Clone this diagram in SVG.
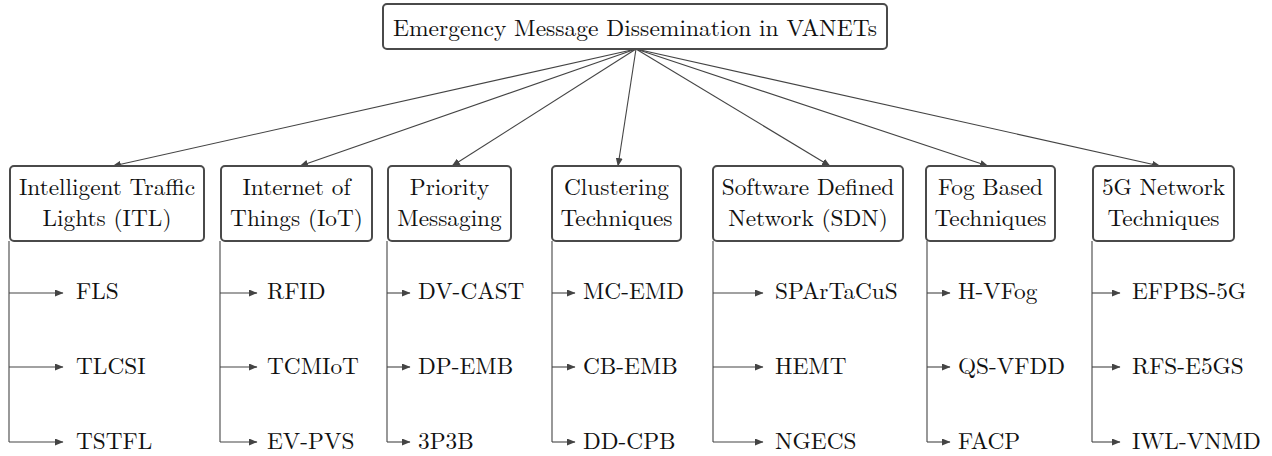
<svg xmlns="http://www.w3.org/2000/svg" width="1272" height="456" viewBox="0 0 1272 456">
<defs>
<marker id="ah" markerUnits="userSpaceOnUse" markerWidth="9" markerHeight="7" refX="8" refY="3.5" orient="auto">
<path d="M0,0 L8.5,3.5 L0,7 z" fill="#444"/>
</marker>
<style>
.box{fill:#fff;stroke:#4a4a4a;stroke-width:2}
text{fill:#111}
.t{text-anchor:middle}
.title{font-size:23.5px}
.cat{font-size:23.3px}
.leaf{font-size:23.3px}
.c{stroke:#444;stroke-width:1.1;fill:none}
.ca{stroke:#444;stroke-width:1.1;fill:none;marker-end:url(#ah)}
</style>
</defs>
<g id="connectors">
<line class="ca" x1="636" y1="49" x2="113" y2="166"/>
<line class="ca" x1="636" y1="49" x2="300" y2="166"/>
<line class="ca" x1="636" y1="49" x2="452" y2="166"/>
<line class="ca" x1="636" y1="49" x2="618" y2="166"/>
<line class="ca" x1="636" y1="49" x2="830" y2="166"/>
<line class="ca" x1="636" y1="49" x2="988" y2="166"/>
<line class="ca" x1="636" y1="49" x2="1160" y2="166"/>

<path class="c" d="M9,241 V442"/>
<line class="ca" x1="9" y1="293" x2="63" y2="293"/>
<line class="ca" x1="9" y1="367" x2="63" y2="367"/>
<line class="ca" x1="9" y1="442" x2="63" y2="442"/>

<path class="c" d="M220,241 V442"/>
<line class="ca" x1="220" y1="293" x2="257" y2="293"/>
<line class="ca" x1="220" y1="367" x2="257" y2="367"/>
<line class="ca" x1="220" y1="442" x2="257" y2="442"/>

<path class="c" d="M387,241 V442"/>
<line class="ca" x1="387" y1="293" x2="410" y2="293"/>
<line class="ca" x1="387" y1="367" x2="410" y2="367"/>
<line class="ca" x1="387" y1="442" x2="410" y2="442"/>

<path class="c" d="M552,241 V442"/>
<line class="ca" x1="552" y1="293" x2="575" y2="293"/>
<line class="ca" x1="552" y1="367" x2="575" y2="367"/>
<line class="ca" x1="552" y1="442" x2="575" y2="442"/>

<path class="c" d="M713,241 V442"/>
<line class="ca" x1="713" y1="293" x2="763" y2="293"/>
<line class="ca" x1="713" y1="367" x2="763" y2="367"/>
<line class="ca" x1="713" y1="442" x2="763" y2="442"/>

<path class="c" d="M927,241 V442"/>
<line class="ca" x1="927" y1="293" x2="950" y2="293"/>
<line class="ca" x1="927" y1="367" x2="950" y2="367"/>
<line class="ca" x1="927" y1="442" x2="950" y2="442"/>

<path class="c" d="M1092,241 V442"/>
<line class="ca" x1="1092" y1="293" x2="1120" y2="293"/>
<line class="ca" x1="1092" y1="367" x2="1120" y2="367"/>
<line class="ca" x1="1092" y1="442" x2="1120" y2="442"/>
</g>

<g font-family="Latin Modern Roman, Liberation Serif, serif">
<g id="root">
<rect class="box" x="383" y="4" width="504" height="45" rx="4"/>
<text class="t title" x="635" y="36">Emergency Message Dissemination in VANETs</text>
</g>

<g id="itl">
<rect class="box" x="10" y="166" width="194" height="75" rx="4"/>
<text class="t cat" x="107" y="195">Intelligent Traffic</text>
<text class="t cat" x="107" y="226">Lights (ITL)</text>
</g>
<g id="iot">
<rect class="box" x="221" y="166" width="151" height="75" rx="4"/>
<text class="t cat" x="296.5" y="195">Internet of</text>
<text class="t cat" x="296.5" y="226">Things (IoT)</text>
</g>
<g id="priority">
<rect class="box" x="388" y="166" width="123" height="75" rx="4"/>
<text class="t cat" x="449.5" y="195">Priority</text>
<text class="t cat" x="449.5" y="226">Messaging</text>
</g>
<g id="clustering">
<rect class="box" x="552" y="166" width="129" height="75" rx="4"/>
<text class="t cat" x="616.5" y="195">Clustering</text>
<text class="t cat" x="616.5" y="226">Techniques</text>
</g>
<g id="sdn">
<rect class="box" x="713" y="166" width="190" height="75" rx="4"/>
<text class="t cat" x="808" y="195">Software Defined</text>
<text class="t cat" x="808" y="226">Network (SDN)</text>
</g>
<g id="fog">
<rect class="box" x="926" y="166" width="129" height="75" rx="4"/>
<text class="t cat" x="990.5" y="195">Fog Based</text>
<text class="t cat" x="990.5" y="226">Techniques</text>
</g>
<g id="fiveg">
<rect class="box" x="1093" y="166" width="141" height="75" rx="4"/>
<text class="t cat" x="1163.5" y="195">5G Network</text>
<text class="t cat" x="1163.5" y="226">Techniques</text>
</g>

<g id="leaves-itl">
<text class="leaf" x="76" y="299">FLS</text>
<text class="leaf" x="76" y="374">TLCSI</text>
<text class="leaf" x="76" y="449">TSTFL</text>
</g>
<g id="leaves-iot">
<text class="leaf" x="267" y="299">RFID</text>
<text class="leaf" x="267" y="374">TCMIoT</text>
<text class="leaf" x="267" y="449">EV-PVS</text>
</g>
<g id="leaves-priority">
<text class="leaf" x="418" y="299">DV-CAST</text>
<text class="leaf" x="418" y="374">DP-EMB</text>
<text class="leaf" x="418" y="449">3P3B</text>
</g>
<g id="leaves-clustering">
<text class="leaf" x="583" y="299">MC-EMD</text>
<text class="leaf" x="583" y="374">CB-EMB</text>
<text class="leaf" x="583" y="449">DD-CPB</text>
</g>
<g id="leaves-sdn">
<text class="leaf" x="775" y="299">SPArTaCuS</text>
<text class="leaf" x="775" y="374">HEMT</text>
<text class="leaf" x="775" y="449">NGECS</text>
</g>
<g id="leaves-fog">
<text class="leaf" x="958" y="299">H-VFog</text>
<text class="leaf" x="958" y="374">QS-VFDD</text>
<text class="leaf" x="958" y="449">FACP</text>
</g>
<g id="leaves-fiveg">
<text class="leaf" x="1132" y="299">EFPBS-5G</text>
<text class="leaf" x="1132" y="374">RFS-E5GS</text>
<text class="leaf" x="1132" y="449">IWL-VNMD</text>
</g>
</g>
</svg>
